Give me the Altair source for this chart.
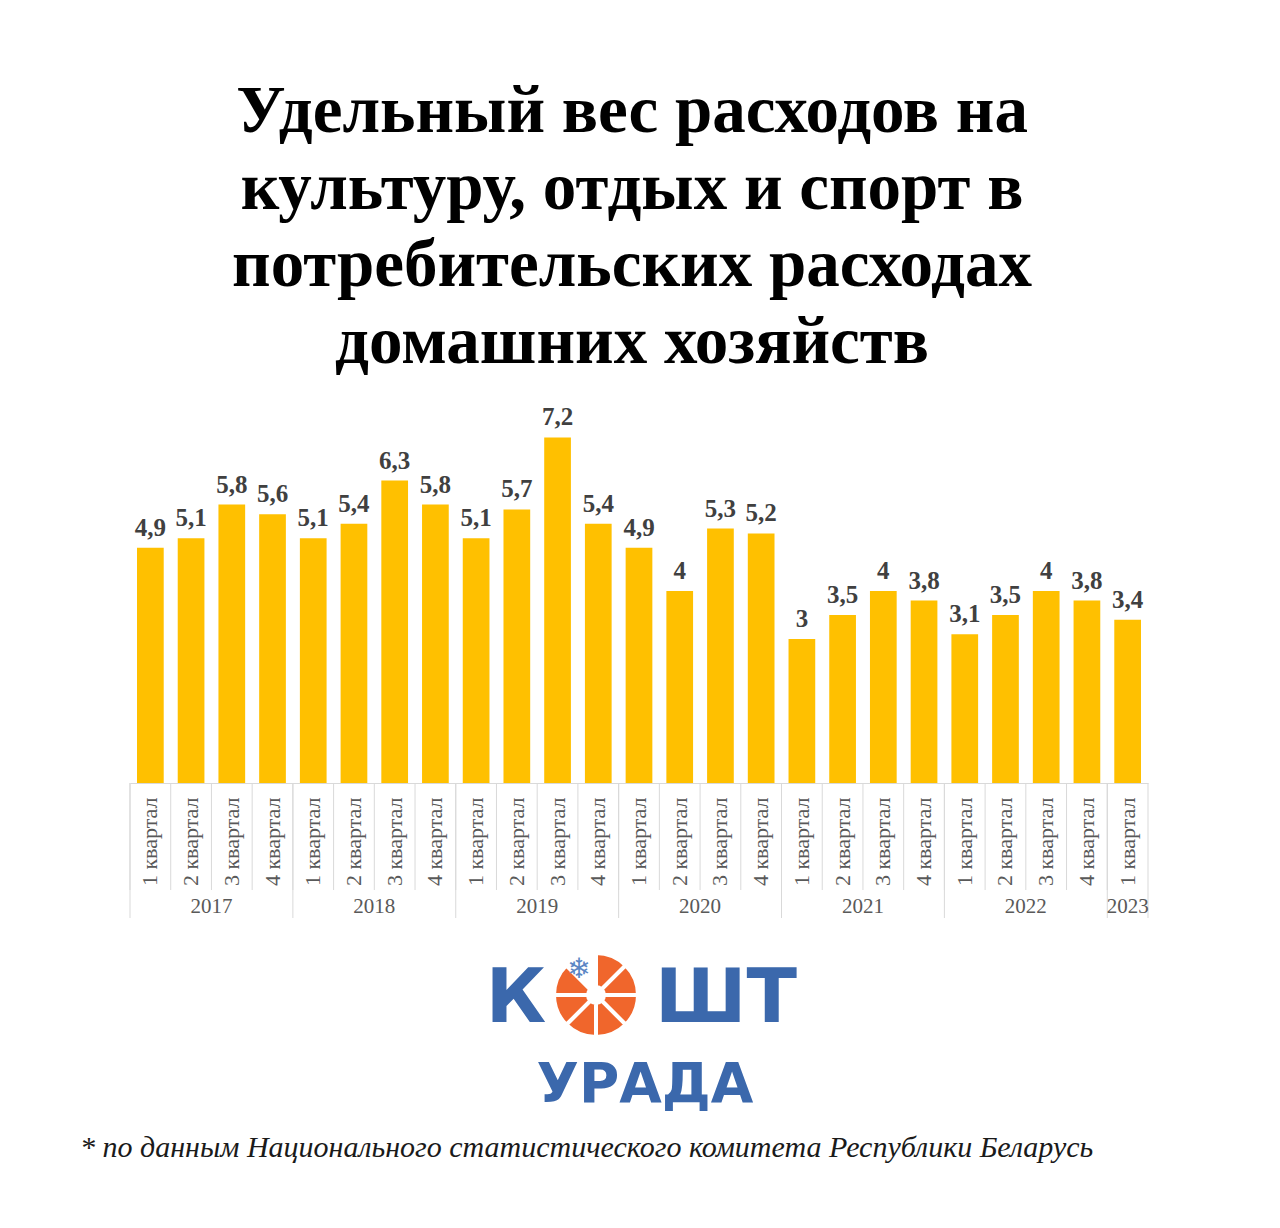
import altair as alt
import pandas as pd

# ---------------- data ----------------
years = ["2017", "2018", "2019", "2020", "2021", "2022", "2023"]
quarters_per_year = [4, 4, 4, 4, 4, 4, 1]
quarter_names = ["1 квартал", "2 квартал", "3 квартал", "4 квартал"]
values = [4.9, 5.1, 5.8, 5.6,
          5.1, 5.4, 6.3, 5.8,
          5.1, 5.7, 7.2, 5.4,
          4.9, 4.0, 5.3, 5.2,
          3.0, 3.5, 4.0, 3.8,
          3.1, 3.5, 4.0, 3.8,
          3.4]
title_lines = ["Удельный вес расходов на",
               "культуру, отдых и спорт в",
               "потребительских расходах",
               "домашних хозяйств"]
footnote = "* по данным Национального статистического комитета Республики Беларусь"
logo_left = "К"
logo_right = "ШТ"
logo_bottom = "УРАДА"
logo_slices = [1, 1, 1, 1, 1, 1, 1, 1]

# ---------------- tables ----------------
cats = []
year_first = []
year_mid_full = []
year_single = []
for y, n in zip(years, quarters_per_year):
    year_cats = [f"{y}|{q}" for q in quarter_names[:n]]
    cats.extend(year_cats)
    year_first.append({"cat": year_cats[0], "year": y})
    if n == 4:
        year_mid_full.append({"cat": year_cats[2], "year": y})
    else:
        year_single.append({"cat": year_cats[0], "year": y})


def fmt(v):
    return f"{v:g}".replace(".", ",")


bars_df = pd.DataFrame({"cat": cats, "value": values,
                        "label": [fmt(v) for v in values]})
sep_df = pd.DataFrame({"cat": cats})
yfirst_df = pd.DataFrame(year_first)
ymid_df = pd.DataFrame(year_mid_full)
ysingle_df = pd.DataFrame(year_single)
end_df = pd.DataFrame({"cat": [cats[-1]]})
slices_df = pd.DataFrame({"v": logo_slices, "k": list(range(len(logo_slices)))})

W, H = 1018, 384
GRID = "#D9D9D9"
SERIF = "Liberation Serif"
BLUE = "#3B68AC"
ORANGE = "#F0662C"

xscale = alt.Scale(domain=cats, paddingInner=0, paddingOuter=0)
yscale = alt.Scale(domain=[0, 8])

x_axis = alt.Axis(title=None, labelExpr="split(datum.label, '|')[1]",
                  labelAngle=270, labelAlign="right", labelBaseline="middle",
                  labelFont=SERIF, labelFontSize=22, labelColor="#595959",
                  labelPadding=14, ticks=False, domainColor=GRID,
                  domainWidth=1, grid=False, labelOverlap=False,
                  labelBound=False, labelLimit=300)


def X(bp=None):
    kw = {}
    if bp is not None:
        kw["bandPosition"] = bp
    return alt.X("cat:N", scale=xscale, axis=x_axis, sort=cats, **kw)


bars = alt.Chart(bars_df).mark_bar(
    color="#FFC000", width=alt.RelativeBandSize(0.656)
).encode(
    x=X(),
    y=alt.Y("value:Q", scale=yscale, axis=None),
)

labels = alt.Chart(bars_df).mark_text(
    font=SERIF, fontSize=25, fontWeight="bold", color="#404040",
    baseline="alphabetic", dy=-12
).encode(
    x=X(),
    y=alt.Y("value:Q", scale=yscale, axis=None),
    text="label:N",
)

q_sep = alt.Chart(sep_df).mark_rule(color=GRID, strokeWidth=1).encode(
    x=X(bp=0), y=alt.value(H), y2=alt.value(H + 107)
)
y_sep = alt.Chart(yfirst_df).mark_rule(color=GRID, strokeWidth=1).encode(
    x=X(bp=0), y=alt.value(H), y2=alt.value(H + 135)
)
end_sep = alt.Chart(end_df).mark_rule(color=GRID, strokeWidth=1).encode(
    x=X(bp=1), y=alt.value(H), y2=alt.value(H + 135)
)

ylab_full = alt.Chart(ymid_df).mark_text(
    font=SERIF, fontSize=21, color="#595959", baseline="middle"
).encode(x=X(bp=0), y=alt.value(H + 124), text="year:N")
ylab_single = alt.Chart(ysingle_df).mark_text(
    font=SERIF, fontSize=21, color="#595959", baseline="middle"
).encode(x=X(bp=0.5), y=alt.value(H + 124), text="year:N")

# ---------------- logo ----------------
one = pd.DataFrame({"a": [0]})
logo_k = alt.Chart(one).mark_text(
    text=logo_left, font="DejaVu Sans", fontWeight="bold", fontSize=74,
    color=BLUE, align="center", baseline="alphabetic"
).encode(x=alt.value(386), y=alt.value(623))
logo_sht = alt.Chart(one).mark_text(
    text=logo_right, font="DejaVu Sans", fontWeight="bold", fontSize=74,
    color=BLUE, align="left", baseline="alphabetic"
).encode(x=alt.value(525), y=alt.value(623))
logo_circle = alt.Chart(slices_df).mark_arc(
    outerRadius=42, innerRadius=8, stroke="white", strokeWidth=4
).encode(
    theta=alt.Theta("v:Q", stack=True),
    color=alt.condition("datum.k == 7", alt.value("white"), alt.value(ORANGE)),
    x=alt.value(466), y=alt.value(596),
)
logo_flake = alt.Chart(one).mark_text(
    text="❄", font="DejaVu Sans", fontSize=28, color="#5B86C4",
    align="center", baseline="middle"
).encode(x=alt.value(449), y=alt.value(571))
logo_urada = alt.Chart(one).mark_text(
    text=logo_bottom, font="DejaVu Sans", fontWeight="bold", fontSize=55,
    color=BLUE, align="center", baseline="alphabetic"
).encode(x=alt.value(515), y=alt.value(703))

foot = alt.Chart(one).mark_text(
    text=footnote, font=SERIF, fontStyle="italic", fontSize=30,
    color="#1a1a1a", align="left", baseline="alphabetic"
).encode(x=alt.value(-50), y=alt.value(758))

chart = alt.layer(
    bars, labels, q_sep, y_sep, end_sep, ylab_full, ylab_single,
    logo_circle, logo_flake, logo_k, logo_sht, logo_urada, foot
).properties(
    width=W, height=H,
    title=alt.TitleParams(
        text=title_lines, font=SERIF, fontSize=67, fontWeight="bold",
        color="black", lineHeight=77, anchor="middle", offset=22, dx=-7
    ),
    autosize=alt.AutoSizeParams(type="none"),
    padding={"left": 122, "top": 391, "right": 120, "bottom": 420},
    background="white",
).configure_view(stroke=None)

chart.save("out.html", embed_options={"renderer": "svg", "actions": False})
